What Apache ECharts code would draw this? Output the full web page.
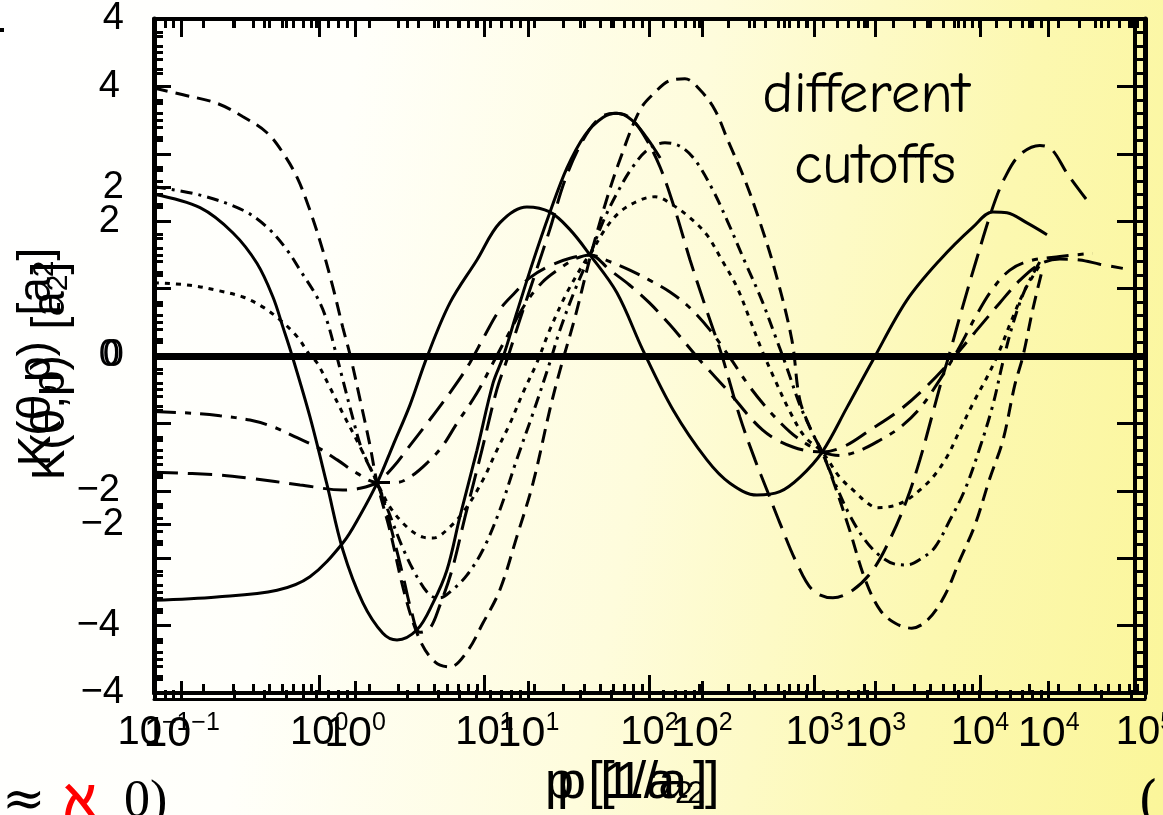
<!DOCTYPE html>
<html><head><meta charset="utf-8">
<script src="https://cdn.jsdelivr.net/npm/echarts@6/dist/echarts.min.js"></script>
<style>
html,body{margin:0;padding:0;}
#c{width:1163px;height:815px;background:linear-gradient(100deg,#ffffff 0%,#fffffa 28%,#fefcdc 55%,#fcf8b0 80%,#fbf69a 100%);}
</style>
</head><body><div id="c"></div>
<script>
// ---- data: p [1/a2] (log axis) and K(theta,p) [a2] ----
const s1_p = [0.1,0.19,0.301,0.42,0.525,0.604,0.684,0.879,1.11,1.39,1.84,2.43,2.96,3.91,4.89,5.94,7.11,9.02,11.3,13.0,15.7,19.7,24.9,31.6,40.6,52.2,63.5,78.2,96.4,116];
const s1_k = [1.92,1.76,1.46,1.10,0.70,0.34,0.01,-0.72,-1.51,-2.30,-2.93,-3.29,-3.37,-3.25,-2.93,-2.54,-1.91,-1.12,-0.32,-0.01,0.51,1.12,1.70,2.23,2.62,2.83,2.88,2.80,2.59,2.35];

const ldb_p = [2.24,2.50,2.84,3.21,3.60,4.07,4.69,5.38,6.37,7.64,9.66,11.9,13.9,16.4,20.2,24.9,30.8,39.5,50.1,61.8,76.0,93.8,116,143,176,216,274,352,435,514,615,780,975,1290,1700,2250,2850,3610,4340,5120,5890,6580,7780,9330,12000,14200,17500,23100,27300,33700,44500];
const ldb_k = [-1.50,-1.77,-2.18,-2.60,-3.01,-3.28,-3.23,-2.96,-2.54,-1.91,-1.12,-0.40,-0.01,0.43,0.96,1.50,2.09,2.56,2.83,2.88,2.83,2.60,2.24,1.73,1.14,0.61,0.01,-0.72,-1.23,-1.59,-1.98,-2.46,-2.78,-2.87,-2.78,-2.54,-2.18,-1.71,-1.23,-0.72,-0.28,0.04,0.55,1.08,1.77,2.12,2.39,2.50,2.45,2.17,1.85];

const d1_p = [0.1,0.150,0.240,0.346,0.483,0.604,0.735,0.879,1.05,1.21,1.39,1.54,1.77,2.03,2.24,2.68,3.31,4.07,5.02,6.19,7.85,9.81,12.4,15.7,19.7,24.9,28.7,35.3,43.6,53.7,66.2,87.5,108,133,164,202,249,298,378,466,574,728,813,962,1110,1320,1630,2010,2480,3060,3870,4840,6140,7570,9330,11500,13800,16300,18200,20900,24000];
const d1_k = [3.18,3.10,3.00,2.84,2.65,2.41,2.12,1.73,1.26,0.82,0.34,0.01,-0.52,-1.06,-1.50,-2.07,-2.84,-3.37,-3.63,-3.69,-3.51,-3.17,-2.78,-2.15,-1.51,-0.64,-0.17,0.45,1.16,1.79,2.33,2.92,3.13,3.27,3.29,3.16,2.92,2.56,2.09,1.59,1.02,0.19,-0.52,-0.90,-1.14,-1.53,-2.07,-2.64,-3.01,-3.17,-3.23,-3.13,-2.84,-2.42,-2.01,-1.45,-1.00,-0.34,-0.01,0.55,1.04];

const dd_p = [0.1,0.190,0.346,0.483,0.638,0.766,0.970,1.11,1.25,1.39,1.58,1.82,2.24,2.68,3.21,3.91,4.69,5.38,6.37,7.85,9.81,12.4,15.7,19.7,24.9,28.7,35.3,43.6,52.2,63.5,78.2,97.7,124,153,188,239,298,378,479,574,679,813,962,1110,1320,1630,2010,2480,3060,3610,4460,5350,6580,8110,10000,12000,13800,15800,18700,23100];
const dd_k = [2.01,1.91,1.73,1.53,1.26,1.02,0.70,0.43,0.07,-0.28,-0.70,-1.12,-1.50,-1.89,-2.28,-2.62,-2.84,-2.87,-2.78,-2.60,-2.30,-1.83,-1.23,-0.68,-0.08,0.31,0.78,1.20,1.59,1.93,2.23,2.45,2.53,2.49,2.33,1.99,1.59,1.12,0.66,0.25,-0.14,-0.58,-0.90,-1.14,-1.50,-1.89,-2.18,-2.37,-2.47,-2.48,-2.40,-2.27,-1.95,-1.59,-1.09,-0.58,-0.07,0.37,0.78,1.12];

const dt_p = [0.1,0.165,0.240,0.346,0.457,0.579,0.735,0.879,0.970,1.16,1.39,1.69,2.03,2.24,2.68,3.40,4.25,4.89,6.19,7.85,9.81,11.9,14.3,17.1,20.8,24.9,31.6,40.6,43.6,53.7,66.2,87.5,108,139,176,222,274,338,406,479,574,708,873,1110,1420,1750,2070,2380,2970,3610,4340,5190,6310,7570,9330,11200,13200,15600,18700,23100];
const dt_k = [0.87,0.84,0.78,0.70,0.58,0.43,0.23,0.01,-0.08,-0.37,-0.68,-1.00,-1.32,-1.50,-1.79,-2.03,-2.15,-2.16,-2.03,-1.79,-1.47,-1.12,-0.80,-0.44,-0.08,0.31,0.75,1.12,1.20,1.50,1.71,1.85,1.89,1.79,1.64,1.44,1.14,0.82,0.43,0.07,-0.28,-0.66,-0.96,-1.14,-1.44,-1.61,-1.74,-1.80,-1.78,-1.71,-1.59,-1.44,-1.20,-0.88,-0.52,-0.23,0.07,0.43,0.78,1.08];

const s2_p = [0.1,0.240,0.556,0.879,1.39,1.77,2.24,2.80,3.55,4.50,6.19,9.02,12.4,18.1,24.9,33.0,43.6,63.5,91.2,139,222,307,447,615,813,1110,1570,2250,3610,5730,9080,12000,14600,19300,25500];
const s2_k = [-2.90,-2.86,-2.78,-2.62,-2.22,-1.89,-1.51,-1.06,-0.58,-0.01,0.63,1.14,1.58,1.77,1.71,1.50,1.20,0.75,0.07,-0.64,-1.23,-1.51,-1.65,-1.61,-1.44,-1.14,-0.61,-0.05,0.66,1.14,1.53,1.71,1.70,1.58,1.44];

const ldd_p = [0.1,0.172,0.251,0.381,0.525,0.735,0.970,1.28,1.69,2.24,2.96,3.65,4.50,5.53,6.82,9.02,11.3,13.9,17.6,22.3,28.7,35.3,43.6,57.5,76.0,100,133,176,232,307,406,536,708,885,1110,1420,1880,2480,3280,4340,5730,7360,9330,11800,15200,20100,30500,48300];
const ldd_k = [-0.66,-0.68,-0.71,-0.76,-0.84,-0.97,-1.08,-1.23,-1.39,-1.50,-1.50,-1.42,-1.27,-1.08,-0.80,-0.44,-0.08,0.25,0.61,0.87,1.04,1.15,1.20,1.12,1.02,0.90,0.76,0.57,0.31,-0.02,-0.37,-0.66,-0.90,-1.04,-1.14,-1.18,-1.12,-1.00,-0.85,-0.62,-0.28,0.07,0.45,0.78,1.02,1.13,1.18,1.22];

const lds_p = [0.1,0.240,0.381,0.766,1.39,1.77,2.24,2.80,3.55,4.50,5.61,6.82,8.18,10.1,12.4,15.3,18.9,24.9,33.0,43.6,57.5,76.0,100,133,202,294,485,738,1110,1520,2160,3280,4650,6580,9330,13200,17500,23100,30500,40300,53200,73400];
const lds_k = [-1.38,-1.41,-1.45,-1.53,-1.59,-1.57,-1.50,-1.32,-1.06,-0.80,-0.55,-0.32,-0.08,0.25,0.55,0.75,0.93,1.07,1.16,1.20,1.02,0.84,0.63,0.37,-0.05,-0.40,-0.88,-1.08,-1.14,-1.07,-0.88,-0.64,-0.38,-0.07,0.28,0.63,0.90,1.09,1.15,1.14,1.09,1.04];

// axis ranges / tick labels
const xRangeA = [0.1, 100000];
const xRangeB = [0.0693, 35900];
const yRangeA = [-4, 4], yStepA = 2;
const yRangeB = [-5, 5], yStepB = 1;
const titleLines = ['different', 'cutoffs'];

const zip = (p, k) => p.map((v, i) => [v, k[i]]);
const NARROW = "'Liberation Sans Narrow','Liberation Sans',Arial,sans-serif";
const SANS = "'Liberation Sans',Arial,sans-serif";
const COMIC = "'Comic Sans MS','Comic Neue','DejaVu Sans',sans-serif";

function xFmt(v) {
  const e = Math.log10(v), n = Math.round(e);
  if (Math.abs(e - n) > 1e-3) return '';
  return '{b|10}{s|' + (n < 0 ? '\u2212' + (-n) : n) + '}';
}
function yFmtA(v) { return v === 0 ? '0' : (v < 0 ? '\u2212' + (-v) : '' + v); }
function yFmtB(v) { return (Math.abs(v) % 2 !== 0 || Math.abs(v) > 4) ? '' : yFmtA(v); }

const BLK = '#000';
function xAxisCfg(range, pos, offset, lineW, showLabel, margin, fs) {
  return {
    type: 'log', logBase: 10, min: range[0], max: range[1], position: pos, offset: offset,
    axisLine: { show: lineW > 0, onZero: false, lineStyle: { color: BLK, width: lineW } },
    axisTick: { show: true, inside: true, length: 18, lineStyle: { color: BLK, width: 3 } },
    minorTick: { show: true, splitNumber: 9, length: 9, lineStyle: { color: BLK, width: 3 } },
    splitLine: { show: false }, minorSplitLine: { show: false },
    axisLabel: {
      show: showLabel, margin: margin, hideOverlap: false, formatter: xFmt,
      rich: {
        b: { fontFamily: NARROW, fontSize: fs, lineHeight: fs + 4, color: BLK },
        s: { fontFamily: NARROW, fontSize: 25, lineHeight: 26, color: BLK, verticalAlign: 'top' }
      }
    }
  };
}
function yAxisCfg(range, step, pos, offset, lineW, fmt, margin, minorSplit, tickLen, minorLen) {
  return {
    type: 'value', min: range[0], max: range[1], interval: step, position: pos, offset: offset,
    axisLine: { show: lineW > 0, onZero: false, lineStyle: { color: BLK, width: lineW } },
    axisTick: { show: tickLen > 0, inside: true, length: tickLen, lineStyle: { color: BLK, width: 3 } },
    minorTick: { show: minorLen > 0, splitNumber: minorSplit, length: minorLen, lineStyle: { color: BLK, width: 3 } },
    splitLine: { show: false }, minorSplitLine: { show: false },
    axisLabel: fmt ? { show: true, margin: margin, formatter: fmt, hideOverlap: false, showMinLabel: true, showMaxLabel: true,
      fontFamily: SANS, fontSize: 38, color: BLK } : { show: false }
  };
}

function curve(name, p, k, type) {
  return {
    name: name, type: 'line', xAxisIndex: 0, yAxisIndex: 0, data: zip(p, k),
    showSymbol: false, symbol: 'none', smooth: 0.35, silent: true,
    lineStyle: { color: BLK, width: 3, type: type }
  };
}

const chart = echarts.init(document.getElementById('c'), null, { renderer: 'canvas' });
const series = [
  curve('S1', s1_p, s1_k, 'solid'),
  curve('S2', s2_p, s2_k, 'solid'),
  curve('D1', d1_p, d1_k, [14, 8]),
  curve('DD', dd_p, dd_k, [12, 6, 3, 6]),
  curve('DT', dt_p, dt_k, [5, 6]),
  curve('LDD', ldd_p, ldd_k, [22, 9, 6, 9]),
  curve('LDs', lds_p, lds_k, [24, 10]),
  curve('LDb', ldb_p, ldb_k, [24, 10])
];
series[0].markLine = {
  silent: true, symbol: 'none', label: { show: false },
  lineStyle: { color: BLK, width: 7, type: 'solid' },
  data: [{ yAxis: 0 }]
};

const yTitle = 'K(\u03b8,p)  [a{sub|2}]';
const xTitle = 'p [1/a{sub|2}]';
const subY = { sub: { fontFamily: SANS, fontSize: 30, verticalAlign: 'bottom', fill: BLK } };
const subX = { sub: { fontFamily: SANS, fontSize: 32, verticalAlign: 'bottom', fill: BLK } };

chart.setOption({
  animation: false,
  backgroundColor: 'transparent',
  grid: { left: 154, top: 19, width: 991, height: 674, containLabel: false, outerBoundsMode: 'none' },
  xAxis: [
    xAxisCfg(xRangeA, 'bottom', 0, 4, true, 18, 40),
    xAxisCfg(xRangeB, 'bottom', 6, 3, true, 12, 43),
    xAxisCfg(xRangeA, 'top', 0, 4, false, 0, 40),
    xAxisCfg(xRangeB, 'top', 0, 0, false, 0, 40)
  ],
  yAxis: [
    yAxisCfg(yRangeA, yStepA, 'left', 0, 5, yFmtA, 30, 10, 17, 9),
    yAxisCfg(yRangeB, yStepB, 'left', 0, 0, yFmtB, 34, 5, 17, 9),
    yAxisCfg(yRangeA, yStepA, 'right', -10, 4, null, 0, 10, 0, 0),
    yAxisCfg(yRangeB, yStepB, 'right', 0, 5, null, 0, 5, 28, 12)
  ],
  series: series,
  graphic: [
    { type: 'text', x: 866, y: 95, style: { text: titleLines[0], font: "59px " + COMIC, fill: BLK, align: 'center', verticalAlign: 'middle' } },
    { type: 'text', x: 875, y: 166, style: { text: titleLines[1], font: "59px " + COMIC, fill: BLK, align: 'center', verticalAlign: 'middle' } },
    { type: 'text', x: 37, y: 357, rotation: Math.PI / 2, style: { text: yTitle, font: "46px " + SANS, fill: BLK, align: 'center', verticalAlign: 'middle', rich: subY } },
    { type: 'text', x: 51, y: 371, rotation: Math.PI / 2, style: { text: yTitle, font: "46px " + SANS, fill: BLK, align: 'center', verticalAlign: 'middle', rich: subY } },
    { type: 'text', x: 545, y: 784, style: { text: xTitle, font: "52px " + SANS, fill: BLK, align: 'left', verticalAlign: 'middle', rich: subX } },
    { type: 'text', x: 557, y: 784, style: { text: xTitle, font: "52px " + SANS, fill: BLK, align: 'left', verticalAlign: 'middle', rich: subX } },
    { type: 'text', x: 2, y: 776, style: { text: '\u2248', font: "52px 'DejaVu Serif',serif", fill: BLK, align: 'left', verticalAlign: 'top' } },
    { type: 'text', x: 64, y: 776, style: { text: '\u2135', font: "bold 52px 'DejaVu Serif',serif", fill: '#ff0000', align: 'left', verticalAlign: 'top' } },
    { type: 'text', x: 124, y: 776, style: { text: '0)', font: "52px 'Liberation Serif',serif", fill: BLK, align: 'left', verticalAlign: 'top' } },
    { type: 'text', x: 1138, y: 778, style: { text: '(', font: "52px 'DejaVu Serif',serif", fill: BLK, align: 'left', verticalAlign: 'top' } },
    { type: 'rect', shape: { x: 0, y: 28, width: 4, height: 4 }, style: { fill: BLK } }
  ]
});
</script></body></html>
